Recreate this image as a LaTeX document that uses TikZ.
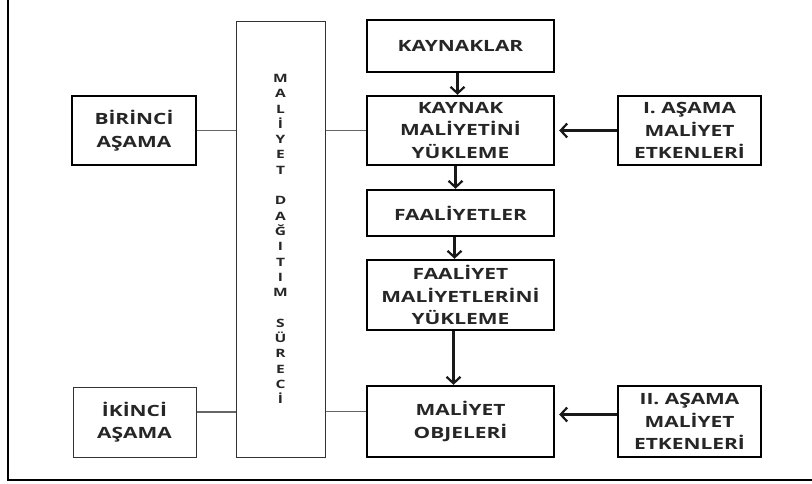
\documentclass[tikz,border=0pt]{standalone}
\usepackage{fontspec}
\usetikzlibrary{arrows.meta}
\newfontfamily\boxfont[FakeStretch=1.35]{Open Sans Bold}
\tikzset{
  thickbox/.style={draw=black, line width=2.4pt, align=center, inner sep=0pt,
    font=\boxfont\fontsize{15.5}{22.5}\selectfont, text=black!85},
  thinbox/.style={draw=black!80, line width=1pt, align=center, inner sep=0pt,
    font=\boxfont\fontsize{15.5}{22.5}\selectfont, text=black!85},
  conn/.style={draw=black!60, line width=1.2pt},
  flow/.style={draw=black!90, line width=2.2pt, -{Straight Barb[length=6.5pt,width=14pt,line width=2.2pt]}},
}
\begin{document}
\begin{tikzpicture}[x=1pt,y=-1pt]
\useasboundingbox (0,0) rectangle (812,483);
% outer frame (partly cut off)
\draw[line width=2.6pt] (8,-5) -- (8,480) -- (815,480);
% tall box
\node[thinbox, minimum width=89pt, minimum height=436pt] (tall) at (280.5,239) {};
\node[font=\boxfont\fontsize{11.5}{15.3}\selectfont, text=black!85, align=center, inner sep=0pt] (vt) at (280.5,239)
 {M\\A\\L\\İ\\Y\\E\\T\\\mbox{}\\D\\A\\Ğ\\I\\T\\I\\M\\\mbox{}\\S\\Ü\\R\\E\\C\\İ};
% left boxes
\node[thickbox, minimum width=124pt, minimum height=69pt] (bir) at (134,130.5) {BİRİNCİ\\AŞAMA};
\node[thinbox, minimum width=123pt, minimum height=70pt] (ik) at (134.5,422) {İKİNCİ\\AŞAMA};
% central column
\node[thickbox, minimum width=187pt, minimum height=52pt] (kay) at (460.5,46) {KAYNAKLAR};
\node[thickbox, minimum width=187pt, minimum height=69pt] (kmy) at (460.5,130.5) {KAYNAK\\MALİYETİNİ\\YÜKLEME};
\node[thickbox, minimum width=187pt, minimum height=46pt] (faa) at (460.5,213) {FAALİYETLER};
\node[thickbox, minimum width=187pt, minimum height=70pt] (fmy) at (460.5,295) {FAALİYET\\MALİYETLERİNİ\\YÜKLEME};
\node[thickbox, minimum width=187pt, minimum height=71pt] (mo) at (460.5,421.5) {MALİYET\\OBJELERİ};
% right boxes
\node[thickbox, minimum width=143pt, minimum height=69pt] (e1) at (689.5,130.5) {I. AŞAMA\\MALİYET\\ETKENLERİ};
\node[thickbox, minimum width=143pt, minimum height=71pt] (e2) at (689.5,421.5) {II. AŞAMA\\MALİYET\\ETKENLERİ};
% connectors
\draw[conn] (bir.east) -- (bir.east -| tall.west);
\draw[conn] (tall.east |- kmy.west) -- (kmy.west);
\draw[conn] ([yshift=10pt]ik.east) -- ([yshift=10pt]ik.east -| tall.west);
\draw[conn] ([yshift=10pt]tall.east |- mo.west) -- ([yshift=10pt]mo.west);
% flow arrows
\draw[flow] ([xshift=-3pt]kay.south) -- ([xshift=-3pt]kmy.north);
\draw[flow] ([xshift=-5pt]kmy.south) -- ([xshift=-5pt]faa.north);
\draw[flow] ([xshift=-6pt]faa.south) -- ([xshift=-6pt]fmy.north);
\draw[flow] ([xshift=-7pt]fmy.south) -- ([xshift=-7pt]mo.north);
\draw[flow] (e1.west) -- ([xshift=4pt]kmy.east);
\draw[flow] ([yshift=7pt]e2.west) -- ([xshift=4pt,yshift=7pt]mo.east);
\end{tikzpicture}
\end{document}
